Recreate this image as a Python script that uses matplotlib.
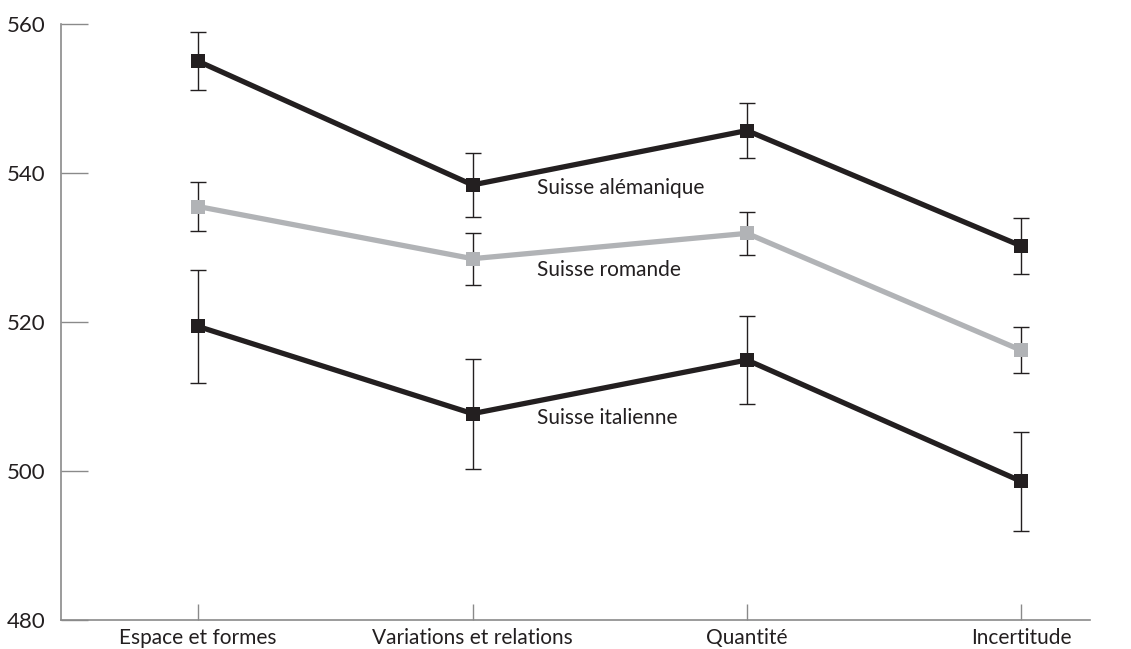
import matplotlib
matplotlib.use("Agg")
import matplotlib.pyplot as plt
import numpy as np

# ── Data ──────────────────────────────────────────────────────────────────────
categories = ["Espace et formes", "Variations et relations", "Quantité", "Incertitude"]

alemanique = [555.0, 538.4, 545.7, 530.2]
alemanique_err = [3.9, 4.3, 3.7, 3.8]

romande = [535.5, 528.5, 531.9, 516.2]
romande_err = [3.3, 3.5, 2.9, 3.1]

italienne = [519.4, 507.7, 514.9, 498.6]
italienne_err = [7.6, 7.4, 5.9, 6.7]

series_labels = ["Suisse alémanique", "Suisse romande", "Suisse italienne"]
y_ticks = [480, 500, 520, 540, 560]

# ── Style ─────────────────────────────────────────────────────────────────────
BLACK = "#231f20"
GREY = "#b1b3b6"
SPINE = "#8a8a8a"
plt.rcParams["font.family"] = ["Lato", "DejaVu Sans"]

fig = plt.figure(figsize=(11.31, 6.49), dpi=100)
ax = fig.add_axes([0.0539, 0.0447, 0.9098, 0.9183])

x = np.arange(len(categories))
series = [
    (alemanique, alemanique_err, BLACK),
    (romande, romande_err, GREY),
    (italienne, italienne_err, BLACK),
]
for vals, errs, col in series:
    ax.errorbar(x, vals, yerr=errs, fmt="none", ecolor=BLACK, elinewidth=1.0,
                capsize=5.8, capthick=1.0, zorder=2)
    ax.plot(x, vals, color=col, lw=3.8, marker="s", markersize=9.5,
            markeredgewidth=0, zorder=3)

# Series labels next to the second category
label_y = [538.0, 527.0, 507.1]
for txt, yy in zip(series_labels, label_y):
    ax.text(1.234, yy, txt, fontsize=15, color=BLACK, va="center", ha="left")

ax.set_xlim(-0.5, 3.25)
ax.set_ylim(480, 560)
ax.set_xticks(x)
ax.set_xticklabels(categories)
ax.set_yticks(y_ticks)

for side in ("top", "right"):
    ax.spines[side].set_visible(False)
for side in ("left", "bottom"):
    ax.spines[side].set_color(SPINE)
    ax.spines[side].set_linewidth(1.2)

ax.tick_params(axis="y", direction="in", length=19.5, width=1.0, color=SPINE,
               pad=11, labelsize=16, labelcolor=BLACK)
ax.tick_params(axis="x", direction="in", length=11.5, width=1.0, color=SPINE,
               pad=6, labelsize=15, labelcolor=BLACK)

fig.savefig("out.png", dpi=100)
